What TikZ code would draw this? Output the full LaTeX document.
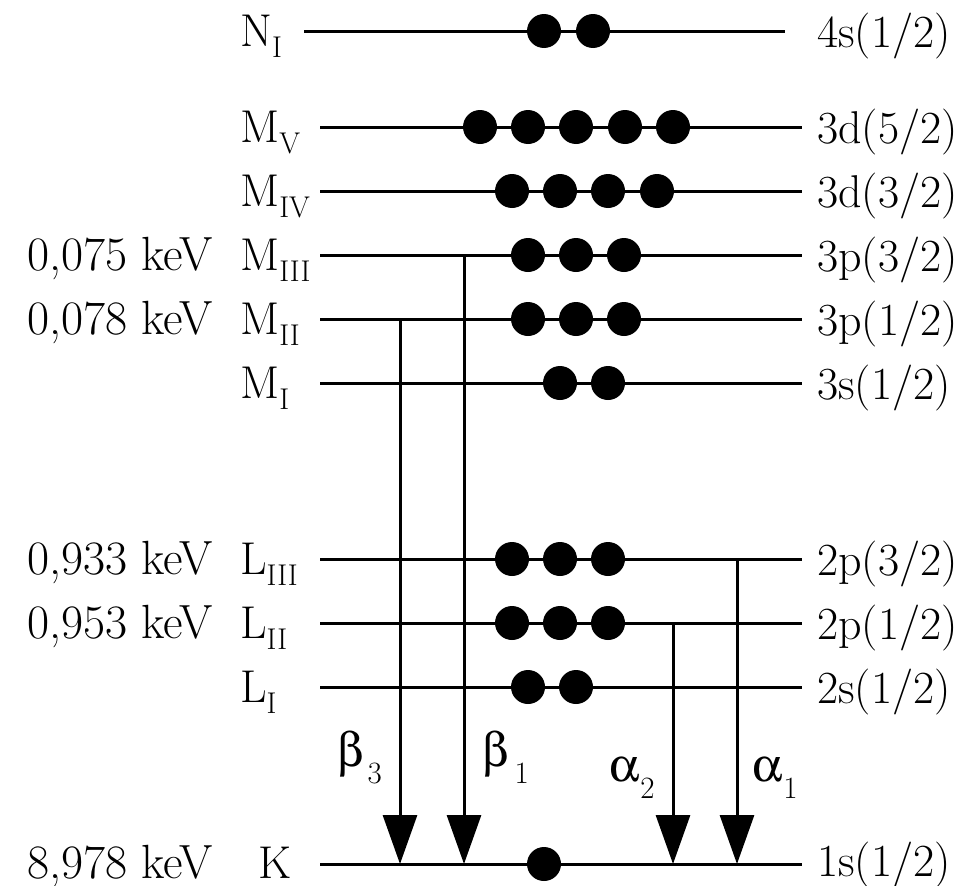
\documentclass[tikz,border=0pt]{standalone}
\usepackage{fontspec}
\usepackage[Symbol]{upgreek}
\usetikzlibrary{arrows.meta}
\newcommand{\bigtxt}{\fontsize{46}{50}\selectfont}
\newcommand{\entxt}{\fontsize{48}{52}\selectfont}
\newcommand{\lvsub}[2]{#1\raisebox{-11pt}{\fontsize{30}{30}\selectfont #2}}
\newcommand{\grsub}[3]{{\fontsize{48}{52}\selectfont$#1$}\kern#3\raisebox{-17pt}{\fontsize{31}{31}\selectfont #2}}
\tikzset{
  lvl/.style={line width=3pt},
  dot/.style={circle, fill=black, draw=none, inner sep=0pt, minimum size=34pt},
  tr/.style={line width=3pt, -{Triangle[length=49pt,width=34pt]}},
  txt/.style={anchor=base west, inner sep=0pt, font=\bigtxt},
  entry/.style={anchor=base east, inner sep=0pt, font=\entxt},
}
\begin{document}
\begin{tikzpicture}[x=1pt,y=-1pt]
\useasboundingbox (0,0) rectangle (961,886);
% level line end points
\coordinate (NIl) at (304,31);  \coordinate (NIr) at (785,31);
\coordinate (MVl) at (320,127); \coordinate (MVr) at (802,127);
\coordinate (MIVl) at (320,191); \coordinate (MIVr) at (802,191);
\coordinate (MIIIl) at (320,255); \coordinate (MIIIr) at (802,255);
\coordinate (MIIl) at (320,319); \coordinate (MIIr) at (802,319);
\coordinate (MIl) at (320,383); \coordinate (MIr) at (802,383);
\coordinate (LIIIl) at (320,559); \coordinate (LIIIr) at (802,559);
\coordinate (LIIl) at (320,623); \coordinate (LIIr) at (802,623);
\coordinate (LIl) at (320,687); \coordinate (LIr) at (802,687);
\coordinate (Kl) at (320,864); \coordinate (Kr) at (802,864);
\foreach \n in {NI,MV,MIV,MIII,MII,MI,LIII,LII,LI,K}
  \draw[lvl] (\n l) -- (\n r);
% electrons
\foreach \x [count=\i] in {544,593} \node[dot] (dNI\i) at (\x,31) {};
\foreach \x [count=\i] in {480,528,576,625,673} \node[dot] (dMV\i) at (\x,127) {};
\foreach \x [count=\i] in {512,560,608,657} \node[dot] (dMIV\i) at (\x,191) {};
\foreach \x [count=\i] in {528,576,624} \node[dot] (dMIII\i) at (\x,255) {};
\foreach \x [count=\i] in {528,576,624} \node[dot] (dMII\i) at (\x,319) {};
\foreach \x [count=\i] in {560,608} \node[dot] (dMI\i) at (\x,383) {};
\foreach \x [count=\i] in {512,560,608} \node[dot] (dLIII\i) at (\x,559) {};
\foreach \x [count=\i] in {512,560,608} \node[dot] (dLII\i) at (\x,623) {};
\foreach \x [count=\i] in {528,576} \node[dot] (dLI\i) at (\x,687) {};
\node[dot] (dK1) at (544,864) {};
% transitions
\coordinate (b3s) at (400,319);
\coordinate (b1s) at (464,255);
\coordinate (a2s) at (673,623);
\coordinate (a1s) at (737,559);
\draw[tr] (b3s) -- (b3s |- Kl);
\draw[tr] (b1s) -- (b1s |- Kl);
\draw[tr] (a2s) -- (a2s |- Kl);
\draw[tr] (a1s) -- (a1s |- Kl);
% transition labels
\node[txt] (tb3) at (337,766) {\grsub{\upbeta}{3}{4pt}};
\node[txt] (tb1) at (482,766) {\grsub{\upbeta}{1}{6pt}};
\node[txt] (ta2) at (609,781) {\grsub{\upalpha}{2}{1pt}};
\node[txt] (ta1) at (752,781) {\grsub{\upalpha}{1}{1pt}};
% level names
\node[txt] (nNI) at (240,46) {\lvsub{N}{I}};
\node[txt] (nMV) at (240,142) {\lvsub{M}{V}};
\node[txt] (nMIV) at (240,206) {\lvsub{M}{IV}};
\node[txt] (nMIII) at (240,270) {\lvsub{M}{III}};
\node[txt] (nMII) at (240,334) {\lvsub{M}{II}};
\node[txt] (nMI) at (240,398) {\lvsub{M}{I}};
\node[txt] (nLIII) at (240,574) {\lvsub{L}{III}};
\node[txt] (nLII) at (240,638) {\lvsub{L}{II}};
\node[txt] (nLI) at (240,702) {\lvsub{L}{I}};
\node[txt] (nK) at (258,878) {K};
% energies
\node[entry] (eMIII) at (213,270) {0,075 keV};
\node[entry] (eMII) at (213,334) {0,078 keV};
\node[entry] (eLIII) at (213,574) {0,933 keV};
\node[entry] (eLII) at (213,638) {0,953 keV};
\node[entry] (eK) at (213,878) {8,978 keV};
% orbitals
\node[txt] (oNI) at (817,47) {4s(1/2)};
\node[txt] (oMV) at (817,143) {3d(5/2)};
\node[txt] (oMIV) at (817,207) {3d(3/2)};
\node[txt] (oMIII) at (817,271) {3p(3/2)};
\node[txt] (oMII) at (817,335) {3p(1/2)};
\node[txt] (oMI) at (817,399) {3s(1/2)};
\node[txt] (oLIII) at (817,575) {2p(3/2)};
\node[txt] (oLII) at (817,639) {2p(1/2)};
\node[txt] (oLI) at (817,703) {2s(1/2)};
\node[txt] (oK) at (817,876) {1s(1/2)};
\end{tikzpicture}
\end{document}
